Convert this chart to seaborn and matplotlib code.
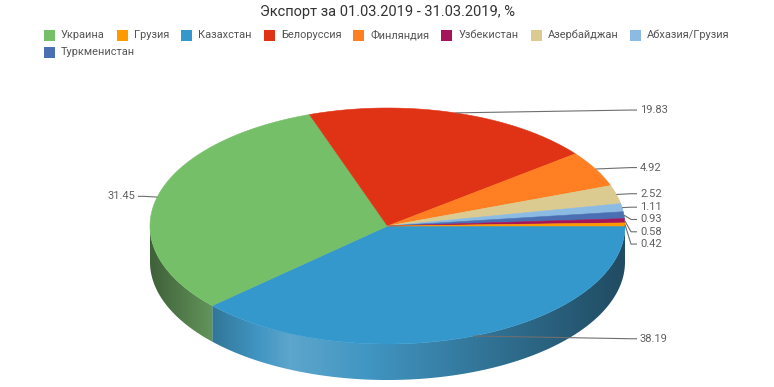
import numpy as np
import matplotlib.pyplot as plt
import matplotlib.colors as mcolors
from matplotlib.patches import Polygon, Rectangle
import seaborn as sns

### DATA ###
title = 'Экспорт за 01.03.2019 - 31.03.2019, %'
countries = ['Украина', 'Грузия', 'Казахстан', 'Белоруссия', 'Финляндия',
             'Узбекистан', 'Азербайджан', 'Абхазия/Грузия', 'Туркменистан']
shares = [31.45, 0.42, 38.19, 19.83, 4.92, 0.58, 2.52, 1.11, 0.93]
colors = ['#76bf69', '#ff9900', '#3498cd', '#e03316', '#ff7f22',
          '#a5155a', '#dccb90', '#8bbbe3', '#4a6fb3']
# order in which the slices go round the pie (clockwise from 3 o'clock)
slice_order = ['Казахстан', 'Украина', 'Белоруссия', 'Финляндия', 'Азербайджан',
               'Абхазия/Грузия', 'Туркменистан', 'Узбекистан', 'Грузия']

sns.set_theme(style='white')
plt.rcParams['font.family'] = ['Roboto', 'DejaVu Sans']

fig = plt.figure(figsize=(7.74, 3.87), dpi=100)
ax = fig.add_axes([0, 0, 1, 1])

# pie geometry (pixels)
cx, cy = 387.5, 226
rx, ry = 237.5, 118
depth = 36

# side wall shading stops (t across the wall from left to right)
side_shade = {'Казахстан': [(0, 0.78), (0.19, 1.15), (1, 0.5)],
              'Украина': [(0, 0.52), (1, 0.82)]}


def shade(col, f):
    rgb = np.array(mcolors.to_rgb(col))
    # a bit greyer than the top face, like the original
    rgb = rgb * 0.85 + rgb.mean() * 0.15
    if f <= 1:
        return rgb * f
    return rgb + (1 - rgb) * (f - 1)


def rim(th, dy=0, k=1.0):
    r = np.radians(th)
    return cx + k * rx * np.cos(r), cy + k * ry * np.sin(r) + dy


col_of = dict(zip(countries, colors))
val_of = dict(zip(countries, shares))
total = sum(shares)

start = 0.0
spans = {}
for c in slice_order:
    sweep = val_of[c] / total * 360
    spans[c] = (start, start + sweep)
    start += sweep

# side walls (front half only), gradient image clipped to the wall shape
for c in slice_order:
    a, b = spans[c]
    a2, b2 = max(a, 0), min(b, 180)
    if b2 <= a2:
        continue
    stops = side_shade.get(c, [(0, 0.7), (1, 0.7)])
    ths = np.linspace(a2, b2, 200)
    xs, ys = rim(ths)
    pts = list(zip(xs, ys)) + list(zip(xs[::-1], ys[::-1] + depth))
    wall = Polygon(pts, closed=True, facecolor='none', edgecolor='none')
    ax.add_patch(wall)
    xmin, xmax = xs.min(), xs.max()
    tt = np.linspace(0, 1, 300)
    ff = np.interp(tt, [s[0] for s in stops], [s[1] for s in stops])
    grad = np.array([[shade(col_of[c], f) for f in ff]])
    im = ax.imshow(grad, extent=(xmin - 1, xmax + 1, ys.max() + depth + 1, ys.min() - 1),
                   aspect='auto', interpolation='bilinear', zorder=1)
    im.set_clip_path(wall)

# top faces
for c in slice_order:
    a, b = spans[c]
    ths = np.linspace(a, b, max(4, int((b - a) * 2)))
    xs, ys = rim(ths)
    pts = [(cx, cy)] + list(zip(xs, ys))
    ax.add_patch(Polygon(pts, closed=True, facecolor=col_of[c],
                         edgecolor=col_of[c], linewidth=0.4, zorder=2))

# data labels with connectors
label_gap = 12.3
right, left = [], []
for c in slice_order:
    a, b = spans[c]
    mid = (a + b) / 2
    ax_, ay_ = rim(mid)
    lx, ly = rim(mid, k=1.025)
    item = [c, ax_, ay_, ly]
    (right if np.cos(np.radians(mid)) >= 0 else left).append(item)

for side in (right, left):
    side.sort(key=lambda it: it[3])
    for i in range(1, len(side)):
        side[i][3] = max(side[i][3], side[i - 1][3] + label_gap)

for side, sign in ((right, 1), (left, -1)):
    tx = cx + sign * (rx + 15)
    for c, ax_, ay_, ly in side:
        ax.plot([ax_, tx - sign * 9, tx - sign * 3], [ay_, ly, ly],
                color='#6e6e6e', lw=0.8, zorder=3, solid_capstyle='butt')
        ax.text(tx, ly, f'{val_of[c]:.2f}', ha='left' if sign > 0 else 'right',
                va='center', fontsize=8, color='#606060', zorder=4)

# title
ax.text(387, 12, title, ha='center', va='center', fontsize=10.5, color='#333333')

# legend (wrapped rows, centred like the original)
renderer = fig.canvas.get_renderer()
sq, pad, gap, lfs = 11, 6, 12, 7.9
max_w = 740
rows, row, row_w = [], [], 0
for c in countries:
    t = ax.text(0, 0, c, fontsize=lfs)
    w = t.get_window_extent(renderer).width
    t.remove()
    iw = sq + pad + w
    if row and row_w + gap + iw > max_w:
        rows.append((row, row_w))
        row, row_w = [], 0
    row_w += (gap if row else 0) + iw
    row.append((c, iw))
rows.append((row, row_w))

x_start = (774 - rows[0][1]) / 2
for r, (items, w) in enumerate(rows):
    x = x_start
    y = 35 + r * 17
    for c, iw in items:
        ax.add_patch(Rectangle((x, y - sq / 2), sq, sq, facecolor=col_of[c],
                               edgecolor='none', zorder=5))
        ax.text(x + sq + pad, y, c, ha='left', va='center', fontsize=lfs,
                color='#555555', zorder=5)
        x += iw + gap

ax.set_xlim(0, 774)
ax.set_ylim(387, 0)
ax.axis('off')

fig.savefig('out.png', dpi=100)
